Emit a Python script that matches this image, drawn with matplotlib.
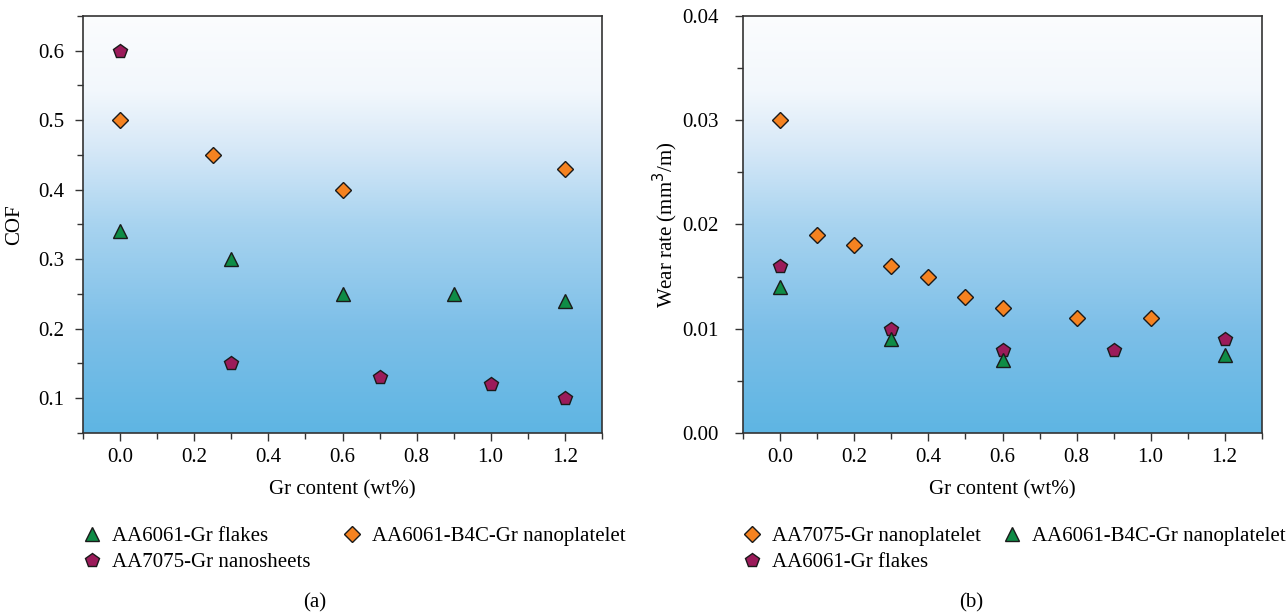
import numpy as np
import matplotlib
matplotlib.use("Agg")
import matplotlib.pyplot as plt
from matplotlib.colors import LinearSegmentedColormap
from matplotlib.ticker import MultipleLocator

# ---- data, panel (a): COF vs Gr content ----
a_flakes_x = [0.0, 0.3, 0.6, 0.9, 1.2]
a_flakes_y = [0.34, 0.30, 0.25, 0.25, 0.24]
a_b4c_x = [0.0, 0.25, 0.6, 1.2]
a_b4c_y = [0.50, 0.45, 0.40, 0.43]
a_sheets_x = [0.0, 0.3, 0.7, 1.0, 1.2]
a_sheets_y = [0.60, 0.15, 0.13, 0.12, 0.10]

# ---- data, panel (b): wear rate vs Gr content ----
b_7075_x = [0.0, 0.1, 0.2, 0.3, 0.4, 0.5, 0.6, 0.8, 1.0]
b_7075_y = [0.030, 0.019, 0.018, 0.016, 0.015, 0.013, 0.012, 0.011, 0.011]
b_b4c_x = [0.0, 0.3, 0.6, 1.2]
b_b4c_y = [0.014, 0.009, 0.007, 0.0075]
b_flakes_x = [0.0, 0.3, 0.6, 0.9, 1.2]
b_flakes_y = [0.016, 0.010, 0.008, 0.008, 0.009]

ORANGE = "#f58220"
GREEN = "#0f8c46"
PURPLE = "#9b1b5a"

plt.rcParams["font.family"] = ["Liberation Serif", "DejaVu Serif"]
plt.rcParams["font.size"] = 15

# background gradient, white at top to blue at bottom
grad = LinearSegmentedColormap.from_list("bg", [
    (0.0, (0.37, 0.71, 0.89)),
    (0.25, (0.49, 0.75, 0.91)),
    (0.50, (0.66, 0.83, 0.94)),
    (0.68, (0.84, 0.91, 0.97)),
    (0.82, (0.95, 0.97, 0.99)),
    (1.0, (0.985, 0.99, 0.995)),
])


def style_axes(ax, xlim, ylim, ymajor, yminor, ypad):
    ax.set_xlim(*xlim)
    ax.set_ylim(*ylim)
    g = np.linspace(0, 1, 256).reshape(-1, 1)
    ax.imshow(g, cmap=grad, origin="lower", aspect="auto",
              extent=(xlim[0], xlim[1], ylim[0], ylim[1]), zorder=0)
    ax.xaxis.set_major_locator(MultipleLocator(0.2))
    ax.xaxis.set_minor_locator(MultipleLocator(0.1))
    ax.yaxis.set_major_locator(MultipleLocator(ymajor))
    ax.yaxis.set_minor_locator(MultipleLocator(yminor))
    ax.tick_params(which="both", direction="out", color="#333333")
    ax.tick_params(which="major", length=6, width=1)
    ax.tick_params(which="minor", length=4, width=1)
    ax.tick_params(axis="x", which="major", pad=5)
    ax.tick_params(axis="y", which="major", pad=ypad)
    for s in ax.spines.values():
        s.set_color("#333333")
        s.set_linewidth(1.2)
    ax.set_xlabel("Gr content (wt%)", labelpad=9)


fig = plt.figure(figsize=(12.86, 6.14), dpi=100)
ax1 = fig.add_axes([0.0648, 0.2948, 0.4031, 0.6792])
ax2 = fig.add_axes([0.578, 0.2948, 0.4031, 0.6792])

mk = dict(linestyle="none", markeredgecolor="#1a1a1a", markeredgewidth=1.0, zorder=3)
leg = dict(ncol=2, frameon=False, loc="upper left", bbox_to_anchor=(-0.019, -0.205),
           handlelength=1.0, handletextpad=0.46, labelspacing=0.3, borderaxespad=0)

# panel (a)
style_axes(ax1, (-0.1, 1.3), (0.05, 0.65), 0.1, 0.05, 8)
h1, = ax1.plot(a_flakes_x, a_flakes_y, marker="^", markersize=10, color=GREEN,
               label="AA6061-Gr flakes", **mk)
h2, = ax1.plot(a_b4c_x, a_b4c_y, marker="D", markersize=8, color=ORANGE,
               label="AA6061-B4C-Gr nanoplatelet", **mk)
h3, = ax1.plot(a_sheets_x, a_sheets_y, marker="p", markersize=10, color=PURPLE,
               label="AA7075-Gr nanosheets", **mk)
ax1.set_ylabel("COF", labelpad=10)
ax1.legend(handles=[h1, h3, h2], columnspacing=1.5, **leg)

# panel (b)
style_axes(ax2, (-0.1, 1.3), (0.0, 0.04), 0.01, 0.005, 12)
ax2.yaxis.set_major_formatter(lambda v, p: f"{v:.2f}")
g1, = ax2.plot(b_7075_x, b_7075_y, marker="D", markersize=8, color=ORANGE,
               label="AA7075-Gr nanoplatelet", **mk)
g3, = ax2.plot(b_flakes_x, b_flakes_y, marker="p", markersize=10, color=PURPLE,
               label="AA6061-Gr flakes", **mk)
g2, = ax2.plot(b_b4c_x, b_b4c_y, marker="^", markersize=10, color=GREEN,
               label="AA6061-B4C-Gr nanoplatelet", **mk)
ax2.set_ylabel("Wear rate (mm$^3$/m)", labelpad=1)
ax2.legend(handles=[g1, g3, g2], columnspacing=1.0, **leg)

fig.text(315 / 1286, 1 - 603 / 614, "(a)", ha="center", va="center")
fig.text(971 / 1286, 1 - 603 / 614, "(b)", ha="center", va="center")

fig.savefig("out.png", dpi=100)
